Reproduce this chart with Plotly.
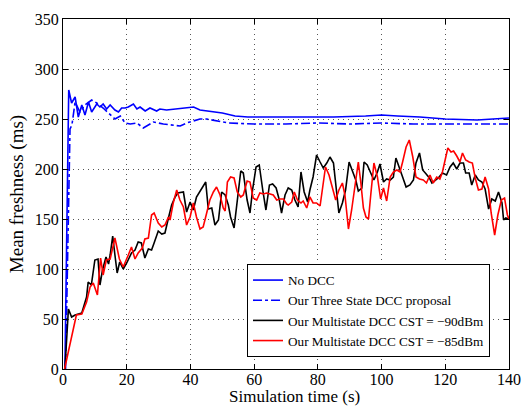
import plotly.graph_objects as go

# ---- data ----
t_nodcc = [0.6, 1.8, 2.7, 3.8, 4.8, 5.9, 6.9, 8, 9, 10.6, 11.6, 12.6, 13.7, 14.8, 16.3, 17.4, 18.4,
           19.5, 20.5, 22.1, 23.2, 24.2, 25.8, 27.3, 29.4, 30.4, 32.5, 35.7, 38.8, 41, 43, 46, 50,
           54, 58, 65, 75, 85, 95, 100, 105, 112, 120, 130, 140]
v_nodcc = [0, 279, 266, 272, 252, 264, 254, 267, 257, 265, 262, 265, 260, 264, 259, 257, 261,
           261, 262, 265, 260, 262, 258, 261, 258, 260, 259, 260, 261, 262, 259, 258, 256,
           253, 252, 252, 252, 252, 253, 254, 253, 252, 250, 249, 251]

t_three = [0.8, 2.2, 2.8, 3.8, 5.3, 6.9, 9, 10.6, 12.6, 14.8, 16.3, 18, 19.5, 21.1, 23.2, 25.2,
           26.3, 28.4, 31.5, 34.6, 36.8, 38.8, 41, 43, 45, 48, 52, 60, 70, 80, 90, 100, 110,
           120, 130, 140]
v_three = [0, 240, 244, 267, 257, 264, 269, 266, 261, 254, 250, 253, 246, 245, 246, 241,
           243, 247, 245, 244, 243, 246, 248, 250, 250, 248, 246, 245, 245, 246, 245, 246, 245,
           245, 245, 245]

t_m90 = [0.6, 1.7, 2.7, 3.8, 5.9, 7.4, 7.9, 8.9, 10, 11, 11.6, 12.4, 13.5, 14.3, 14.8, 15.6, 16.3,
         17, 17.8, 18.9, 20, 21.5, 22.6, 23.6, 24.6, 25.7, 26.8, 27.8, 28.6, 29.9, 31, 32, 33.1,
         34.1, 35.2, 36, 37.8, 38.8, 39.9, 40.9, 41.9, 43, 44, 44.8, 45.6, 46.7, 47.7, 48.8,
         49.8, 50.9, 51.9, 52.6, 53.7, 54.7, 55.8, 56.6, 57.8, 58.7, 59.5, 60.6, 61.6, 62.7,
         63.7, 64.8, 65.8, 66.9, 67.9, 68.6, 69.7, 70.7, 71.8, 72.8, 73.8, 74.7, 75.7, 76.8,
         77.5, 78.5, 79.6, 80.7, 81.7, 82.8, 83.8, 84.9, 85.9, 86.6, 87.7, 88.7, 89.8, 90.8,
         91.9, 92.7, 93.8, 94.5, 95.5, 96.6, 97.6, 98.7, 99.5, 100.6, 101.6, 102.7, 103.7,
         104.5, 105.6, 106.6, 107.7, 108.9, 110, 110.8, 111.9, 112.9, 114, 115, 115.8, 116.8,
         117.8, 119.1, 120.4, 121.5, 122.5, 123.6, 124.6, 125.7, 126.4, 127.5, 128.3, 129.4,
         130.4, 131.5, 132.5, 133.6, 134.6, 135.7, 136.7, 137.8, 138.3, 139, 140]
v_m90 = [0, 60, 52, 54, 56, 72, 87, 84, 109, 110, 84, 99, 112, 105, 114, 133, 114,
         96, 107, 100, 106, 116, 119, 127, 126, 111, 120, 119, 126, 138, 135, 136, 151,
         164, 172, 176, 177, 157, 167, 159, 172, 178, 182, 187, 160, 161, 144, 149,
         177, 174, 164, 152, 141, 169, 198, 196, 169, 156, 179, 202, 204, 179,
         159, 184, 185, 181, 169, 156, 174, 181, 179, 169, 162, 197, 177, 167,
         179, 192, 214, 207, 201, 206, 212, 206, 179, 156, 166, 179, 207, 199,
         189, 178, 181, 207, 204, 196, 189, 197, 205, 187, 190, 189, 192,
         211, 202, 192, 182, 184, 189, 206, 216, 199, 195, 191, 186, 189,
         191, 196, 194, 202, 206, 200, 206, 206, 196, 196, 184, 194,
         189, 187, 180, 160, 170, 168, 177, 166, 149, 151, 150]

t_m85 = [0.5, 2.2, 3.2, 4.2, 5.9, 7.4, 8.5, 9.5, 10.8, 11.8, 12.6, 13.6, 14.8, 16.3, 17.7, 18.9,
         20.5, 21.5, 22.6, 23.6, 24.9, 25.7, 26.8, 27.8, 28.6, 29.9, 31, 32, 33.1, 33.6, 34.6,
         35.7, 36.7, 37.8, 38.8, 39.9, 40.9, 41.9, 43, 44, 45.1, 46.1, 47.2, 48.2, 49.3, 50.3,
         50.9, 51.6, 52.6, 53.7, 54.7, 55.8, 56.6, 57.8, 58.7, 59.7, 60.8, 61.8, 62.9, 63.9,
         65, 66, 67.1, 68.1, 69.2, 70.2, 70.7, 71.8, 72.6, 73.6, 74.7, 75.4, 76.5, 77.5, 78.5,
         79.6, 80.7, 81.7, 82.4, 83.5, 84.5, 85.6, 86.6, 87.7, 88.5, 89.6, 90.6, 91.7, 92.7,
         93.5, 94.3, 95.1, 95.9, 96.6, 97.6, 98.7, 99.7, 100.6, 101.6, 102.7, 103.7, 104.8,
         105.8, 106.6, 107.7, 108.7, 109.8, 110.8, 111.9, 113.1, 114.1, 115.2, 116.2, 117.3,
         118.3, 119.1, 119.9, 120.8, 121.8, 122.6, 123.6, 124.6, 125.4, 126.4, 127.5, 128.5,
         129.4, 130.4, 131.5, 132.5, 133.6, 134.4, 135.5, 136.5, 137.6, 138.6, 139.5, 140]
v_m85 = [0, 26, 42, 54, 55, 67, 82, 86, 74, 111, 94, 109, 110, 131, 110, 102,
         114, 122, 110, 116, 121, 130, 131, 154, 156, 146, 142, 144, 152, 149, 166,
         179, 169, 162, 144, 152, 166, 152, 140, 142, 156, 169, 177, 182, 174, 161,
         158, 187, 192, 191, 177, 172, 174, 188, 187, 171, 169, 176, 175, 176,
         175, 174, 169, 170, 170, 165, 164, 167, 177, 169, 166, 168, 161, 172, 166,
         166, 163, 184, 202, 194, 182, 169, 179, 186, 174, 140, 159, 186, 207,
         186, 161, 152, 150, 174, 206, 192, 170, 181, 168, 192, 197, 199,
         197, 207, 222, 229, 212, 192, 190, 189, 186, 194, 186, 192,
         190, 197, 207, 221, 217, 218, 213, 207, 216, 209, 207, 206,
         191, 179, 180, 192, 180, 156, 134, 154, 169, 171, 154, 150]

x_ticks = [0, 20, 40, 60, 80, 100, 120, 140]
y_ticks = [0, 50, 100, 150, 200, 250, 300, 350]
x_title = "Simulation time (s)"
y_title = "Mean freshness (ms)"

FONT = "Liberation Serif, Times New Roman, serif"

fig = go.Figure()
fig.add_trace(go.Scatter(x=t_nodcc, y=v_nodcc, mode="lines", name="No DCC",
                         line=dict(color="#0000ff", width=1.6)))
fig.add_trace(go.Scatter(x=t_three, y=v_three, mode="lines", name="Our Three State DCC proposal",
                         line=dict(color="#0000ff", width=1.6, dash="dashdot")))
fig.add_trace(go.Scatter(x=t_m90, y=v_m90, mode="lines", name="Our Multistate DCC CST = \u221290dBm",
                         line=dict(color="#000000", width=1.6)))
fig.add_trace(go.Scatter(x=t_m85, y=v_m85, mode="lines", name="Our Multistate DCC CST = \u221285dBm",
                         line=dict(color="#ff0000", width=1.6)))

axis_common = dict(
    showline=True, linecolor="black", linewidth=1.2, mirror="ticks",
    ticks="inside", ticklen=5, tickcolor="black", tickwidth=1,
    showgrid=True, gridcolor="#555555", griddash="1px,4px", gridwidth=1,
    zeroline=False, automargin=False,
    tickfont=dict(family=FONT, size=16, color="black"),
)

fig.update_layout(
    width=523, height=408,
    margin=dict(l=63, r=14, t=19, b=39, autoexpand=False),
    paper_bgcolor="white", plot_bgcolor="white",
    font=dict(family=FONT, color="black"),
    xaxis=dict(range=[0, 140], tickvals=x_ticks, ticklabelstandoff=-4, **axis_common),
    yaxis=dict(range=[0, 350], tickvals=y_ticks,
               title=dict(text=y_title, font=dict(family=FONT, size=19), standoff=6),
               **axis_common),
    showlegend=True,
    legend=dict(x=0.4126, y=0.30, xanchor="left", yanchor="top",
                bgcolor="white", bordercolor="black", borderwidth=1,
                font=dict(family=FONT, size=13.2, color="black"),
                tracegroupgap=0, itemwidth=30),
    annotations=[dict(text=x_title, xref="paper", yref="paper", x=0.52, y=0,
                      xanchor="center", yanchor="top", yshift=-17, showarrow=False,
                      borderpad=0, font=dict(family=FONT, size=17, color="black"))],
)

fig.write_html("out.html")
